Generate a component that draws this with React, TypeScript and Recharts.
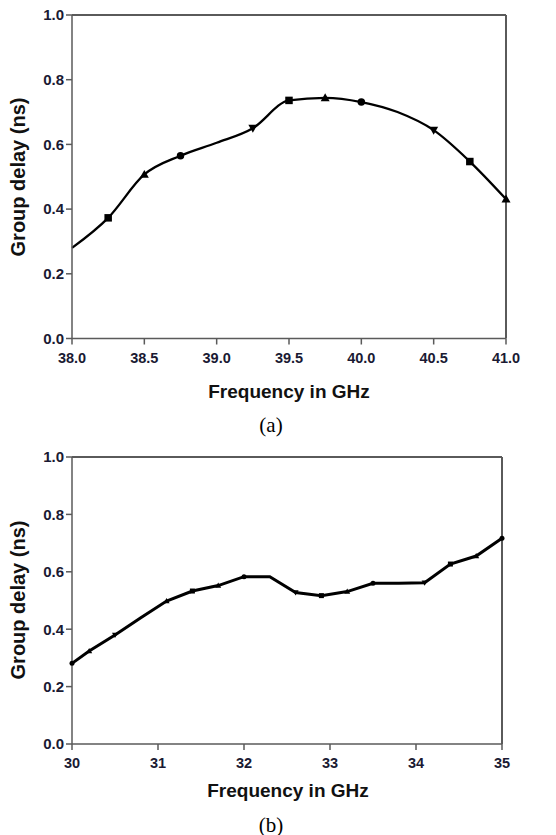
import { LineChart, Line, XAxis, YAxis, ReferenceLine } from 'recharts'

// ─── data ────────────────────

const freqA = [38.0, 38.25, 38.5, 38.75, 39.0, 39.25, 39.5, 39.75, 40.0, 40.25, 40.5, 40.75, 41.0]
const delayA = [0.28, 0.373, 0.507, 0.565, 0.605, 0.65, 0.736, 0.744, 0.731, 0.7, 0.644, 0.547, 0.431]
const markerA = ['none', 'square', 'tri', 'circle', 'none', 'triDown', 'square', 'tri', 'circle', 'none', 'triDown', 'square', 'tri']

const freqB = [30.0, 30.2, 30.5, 30.8, 31.1, 31.4, 31.7, 32.0, 32.3, 32.6, 32.9, 33.2, 33.5, 33.8, 34.1, 34.4, 34.7, 35.0]
const delayB = [0.281, 0.324, 0.38, 0.44, 0.498, 0.533, 0.552, 0.583, 0.583, 0.528, 0.517, 0.531, 0.56, 0.56, 0.562, 0.627, 0.655, 0.717]
const markerB = ['circle', 'tri', 'triDown', 'none', 'tri', 'square', 'tri', 'circle', 'none', 'triDown', 'square', 'tri', 'circle', 'none', 'triDown', 'square', 'tri', 'circle']

const yTicks = [0, 0.2, 0.4, 0.6, 0.8, 1.0]
const xTicksA = [38.0, 38.5, 39.0, 39.5, 40.0, 40.5, 41.0]
const xTicksB = [30, 31, 32, 33, 34, 35]

const dataA = freqA.map((f, i) => ({ f, d: delayA[i], m: markerA[i] }))
const dataB = freqB.map((f, i) => ({ f, d: delayB[i], m: markerB[i] }))

const AXIS = '#5a5a5a'
const TICK_TEXT = '#1a1a33'
const FONT = '"Liberation Sans", Arial, sans-serif'
const Y_AXIS_W = 72
const TOP = 15
const X_AXIS_H = 41.5

function makeMarker(size: number) {
  return (props: any) => {
    const { cx, cy, payload, index } = props
    const key = `m-${index}`
    if (cx == null || cy == null || payload.m === 'none') return <g key={key} />
    const s = size
    if (payload.m === 'square')
      return <rect key={key} x={cx - s / 2} y={cy - s / 2} width={s} height={s} fill="#000" />
    if (payload.m === 'circle') return <circle key={key} cx={cx} cy={cy} r={s / 2} fill="#000" />
    if (payload.m === 'tri')
      return (
        <path
          key={key}
          d={`M${cx},${cy - s * 0.6} L${cx + s * 0.6},${cy + s * 0.45} L${cx - s * 0.6},${cy + s * 0.45} Z`}
          fill="#000"
        />
      )
    return (
      <path
        key={key}
        d={`M${cx},${cy + s * 0.6} L${cx + s * 0.6},${cy - s * 0.45} L${cx - s * 0.6},${cy - s * 0.45} Z`}
        fill="#000"
      />
    )
  }
}

interface PanelProps {
  data: { f: number; d: number; m: string }[]
  domain: [number, number]
  xTicks: number[]
  xDigits: number
  width: number
  height: number
  rightMargin: number
  strokeWidth: number
  markerSize: number
  curve: 'monotone' | 'linear'
}

function Panel({ data, domain, xTicks, xDigits, width, height, rightMargin, strokeWidth, markerSize, curve }: PanelProps) {
  return (
    <LineChart width={width} height={height} data={data} margin={{ top: TOP, right: rightMargin, left: 0, bottom: 0 }}>
      <XAxis
        dataKey="f"
        type="number"
        domain={domain}
        ticks={xTicks}
        interval={0}
        height={X_AXIS_H}
        tickSize={6}
        tickMargin={8}
        stroke={AXIS}
        strokeWidth={1.5}
        tickFormatter={(v: number) => v.toFixed(xDigits)}
        tick={{ fontSize: 14.5, fontWeight: 'bold', fill: TICK_TEXT, fontFamily: FONT }}
      />
      <YAxis
        domain={[0, 1]}
        ticks={yTicks}
        interval={0}
        width={Y_AXIS_W}
        tickSize={6}
        tickMargin={2}
        stroke={AXIS}
        strokeWidth={1.5}
        tickFormatter={(v: number) => v.toFixed(1)}
        tick={{ fontSize: 15, fontWeight: 'bold', fill: TICK_TEXT, fontFamily: FONT }}
      />
      {/* plot frame, top and right */}
      <ReferenceLine y={1} stroke={AXIS} strokeWidth={2} ifOverflow="visible" />
      <ReferenceLine x={domain[1]} stroke={AXIS} strokeWidth={2} ifOverflow="visible" />
      <Line
        type={curve}
        dataKey="d"
        stroke="#000"
        strokeWidth={strokeWidth}
        dot={makeMarker(markerSize)}
        activeDot={false}
        isAnimationActive={false}
      />
    </LineChart>
  )
}

const titleStyle: React.CSSProperties = {
  position: 'absolute',
  fontFamily: FONT,
  fontWeight: 'bold',
  color: '#111',
  whiteSpace: 'nowrap',
  transform: 'translate(-50%, -50%)',
}

const captionStyle: React.CSSProperties = {
  position: 'absolute',
  fontFamily: '"Liberation Serif", "Times New Roman", serif',
  fontSize: 21,
  color: '#000',
  transform: 'translate(-50%, -50%)',
}

export default function App() {
  return (
    <div style={{ position: 'absolute', left: 0, top: 0, width: 556, height: 835, background: '#fff', overflow: 'hidden' }}>
      <div style={{ position: 'absolute', left: 0, top: 0 }}>
        <Panel
          data={dataA}
          domain={[38, 41]}
          xTicks={xTicksA}
          xDigits={1}
          width={556}
          height={380}
          rightMargin={50}
          strokeWidth={2.3}
          markerSize={7.5}
          curve="monotone"
        />
      </div>
      <div style={{ ...titleStyle, left: 18, top: 177, fontSize: 20, transform: 'translate(-50%, -50%) rotate(-90deg)' }}>
        Group delay (ns)
      </div>
      <div style={{ ...titleStyle, left: 289, top: 392, fontSize: 19 }}>Frequency in GHz</div>
      <div style={{ ...captionStyle, left: 271, top: 425 }}>(a)</div>

      <div style={{ position: 'absolute', left: 0, top: 442 }}>
        <Panel
          data={dataB}
          domain={[30, 35]}
          xTicks={xTicksB}
          xDigits={0}
          width={556}
          height={343.5}
          rightMargin={54}
          strokeWidth={3}
          markerSize={5}
          curve="linear"
        />
      </div>
      <div style={{ ...titleStyle, left: 18, top: 600, fontSize: 20, transform: 'translate(-50%, -50%) rotate(-90deg)' }}>
        Group delay (ns)
      </div>
      <div style={{ ...titleStyle, left: 288, top: 791, fontSize: 19 }}>Frequency in GHz</div>
      <div style={{ ...captionStyle, left: 271, top: 825 }}>(b)</div>
    </div>
  )
}
